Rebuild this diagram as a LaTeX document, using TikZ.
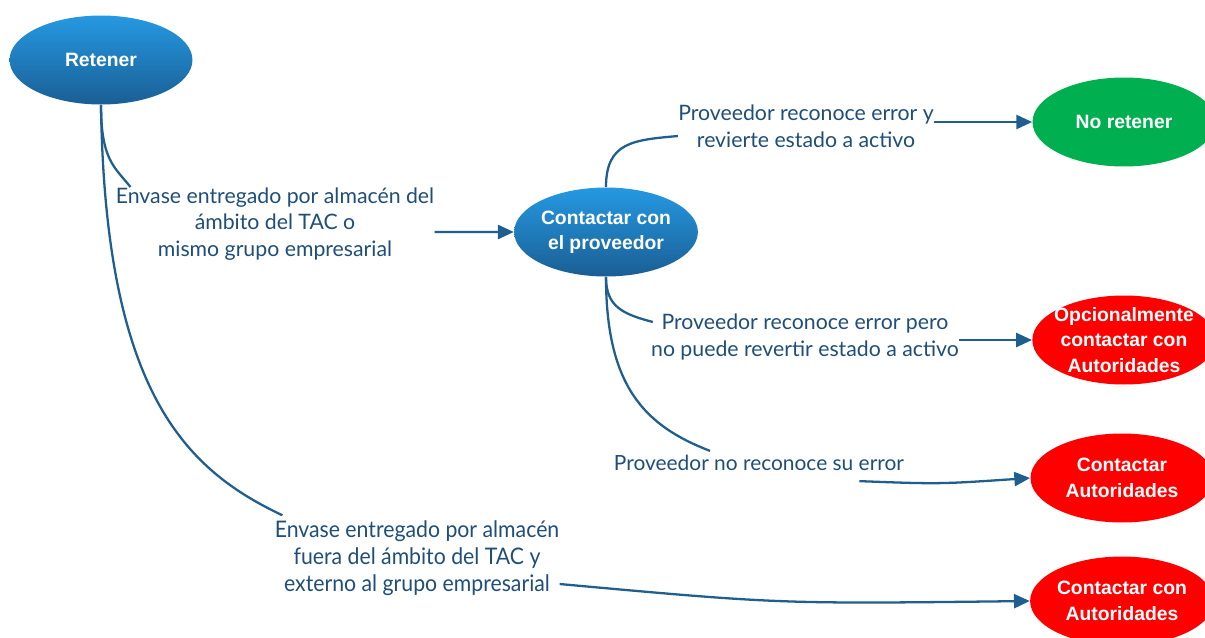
\documentclass[tikz,border=0pt]{standalone}
\usepackage{fontspec}
\setmainfont{Lato}
\newfontfamily\boxfont{Liberation Sans}
\newfontfamily\narrowfont[FakeStretch=0.93]{Lato}
\usetikzlibrary{shapes.geometric,arrows.meta}

\definecolor{linkblue}{HTML}{1F5F8F}
\definecolor{textblue}{HTML}{1F4E79}
\definecolor{topblue}{HTML}{2599E2}
\definecolor{botblue}{HTML}{1A5E94}
\definecolor{okgreen}{HTML}{00B050}

\begin{document}
\begin{tikzpicture}[x=0.02cm,y=-0.02cm,
    bubble/.style ={ellipse, inner sep=0pt, minimum width=3.66cm, minimum height=1.78cm,
      align=center, text=white, font=\boxfont\bfseries\fontsize{11}{14.5}\selectfont},
    bluebubble/.style ={bubble, top color=topblue, bottom color=botblue},
    redbubble/.style ={bubble, fill=red},
    branch/.style ={align=center, inner sep=0pt, text=textblue,
      font=\fontsize{12.1}{15.3}\selectfont},
    link/.style ={linkblue, line width=1.3pt},
    arrow/.style ={link, -{Triangle[length=9pt,width=8pt]}}]
   \useasboundingbox (0,0) rectangle (1205,637);

   \node[bluebubble] (ret) at (101,60) {Retener};
   \node[bluebubble] (con) at (606,232) {Contactar con\\el proveedor};
   \node[bubble,fill=okgreen] (nr) at (1124,122) {No retener};
   \node[redbubble,inner sep=-0.1cm] (opc) at (1124,340) {Opcionalmente\\contactar con\\Autoridades};
   \node[redbubble] (ca) at (1122,478) {Contactar\\Autoridades};
   \node[redbubble] (cca) at (1122,601) {Contactar con\\Autoridades};

   \node[branch] (dentro) at (275,224) {Envase entregado por almacén del\\ámbito del TAC o\\mismo grupo empresarial};
   \node[branch,font=\narrowfont\fontsize{13}{15.3}\selectfont] (fuera) at (417,558) {Envase entregado por almacén\\fuera del ámbito del TAC y\\externo al grupo empresarial};
   \node[branch] (revierte) at (806,126) {Proveedor reconoce error y\\revierte estado a activo};
   \node[branch] (norevierte) at (805,337) {Proveedor reconoce error pero\\no puede revertir estado a activo};
   \node[branch,font=\fontsize{11.9}{15.3}\selectfont] (noreconoce) at (759,463) {Proveedor no reconoce su error};

   \draw[link] (ret.south) .. controls +(0,55) and +(-16,-20) .. ([xshift=0.3cm]dentro.north west);
   \draw[link] (ret.south) .. controls +(4,290) and +(-95,-45) .. ([xshift=0.16cm,yshift=0.1cm]fuera.north west);
   \draw[arrow] ([yshift=-0.16cm]dentro.east) -- (con.west);
   \draw[arrow] ([yshift=-0.52cm]fuera.east) .. controls +(220,20) .. (cca.west);

   \draw[link] (con.north) .. controls +(0,-45) and +(-45,4) .. ([yshift=-0.2cm]revierte.west);
   \draw[link] (con.south) .. controls +(0,30) and +(-30,-8) .. ([xshift=0.04cm,yshift=0.3cm]norevierte.west);
   \draw[link] (con.south) .. controls +(0,110) and +(-65,-25) .. ([xshift=-0.98cm,yshift=0.08cm]noreconoce.north);
   \draw[arrow] (revierte.east |- nr.west) -- (nr.west);
   \draw[arrow] (norevierte.east |- opc.west) -- (opc.west);
   \draw[arrow] ([xshift=-0.9cm,yshift=-0.2cm]noreconoce.south east) .. controls +(80,3) .. (ca.west);
 \end{tikzpicture}
\end{document}
